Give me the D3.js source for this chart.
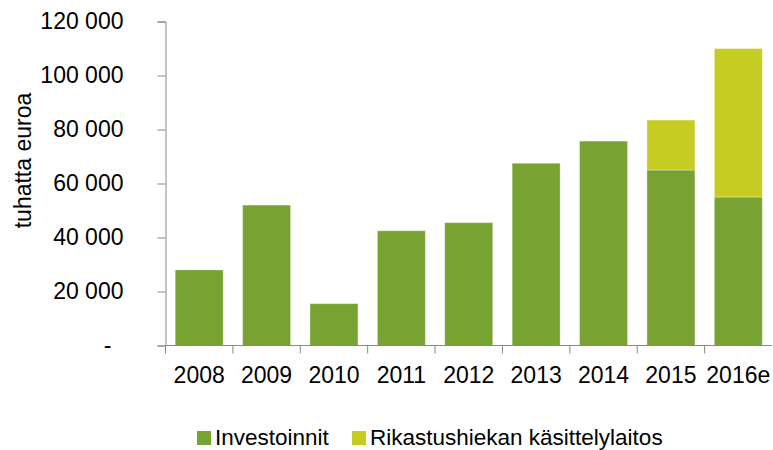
<!DOCTYPE html>
<html>
<head>
<meta charset="utf-8">
<script src="https://cdn.jsdelivr.net/npm/d3@7"></script>
<style>
body { margin: 0; background: #fff; }
text { font-family: "Liberation Sans", Arial, sans-serif; fill: #000; }
</style>
</head>
<body>
<div id="chart"></div>
<script>
// data
var years = ["2008", "2009", "2010", "2011", "2012", "2013", "2014", "2015", "2016e"];
var investoinnit = [28000, 52000, 15500, 42500, 45500, 67500, 75700, 65000, 55000];
var rikastus = [0, 0, 0, 0, 0, 0, 0, 18500, 55000];
var seriesNames = ["Investoinnit", "Rikastushiekan käsittelylaitos"];
var yTicks = [0, 20000, 40000, 60000, 80000, 100000, 120000];

var width = 773, height = 450;
var margin = {top: 21.5, right: 1, bottom: 104.5, left: 165.5};

var svg = d3.select("#chart").append("svg")
    .attr("width", width)
    .attr("height", height);

var x = d3.scaleBand()
    .domain(years)
    .range([margin.left, width - margin.right])
    .paddingInner(0.288)
    .paddingOuter(0.144);

var y = d3.scaleLinear()
    .domain([0, 120000])
    .range([height - margin.bottom, margin.top]);

var colors = ["#78a232", "#c5cd22"];

var rows = years.map(function(yr, i) {
    return {year: yr, inv: investoinnit[i], rik: rikastus[i]};
});
var stacked = d3.stack().keys(["inv", "rik"])(rows);

svg.append("g").selectAll("g")
    .data(stacked)
    .enter().append("g")
    .attr("fill", function(d, i) { return colors[i]; })
    .selectAll("rect")
    .data(function(d) { return d; })
    .enter().append("rect")
    .attr("x", function(d) { return x(d.data.year); })
    .attr("y", function(d) { return y(d[1]); })
    .attr("width", x.bandwidth())
    .attr("height", function(d) { return y(d[0]) - y(d[1]); })
    .attr("stroke", "rgba(255,255,255,0.35)")
    .attr("stroke-width", 1);

var fmt = function(v) {
    if (v === 0) return "-";
    return d3.format(",")(v).replace(/,/g, " ");
};

// y axis
var yAxis = svg.append("g")
    .attr("transform", "translate(" + margin.left + ",0)")
    .call(d3.axisLeft(y).tickValues(yTicks).tickFormat(fmt).tickSize(8).tickPadding(34));
yAxis.select(".domain").attr("stroke", "#898989");
yAxis.selectAll(".tick line").attr("stroke", "#898989");
yAxis.selectAll(".tick text")
    .attr("font-size", 23)
    .attr("font-family", "Liberation Sans, Arial, sans-serif")
    .attr("dx", function(d) { return d === 0 ? -12 : 0; });

// x axis (ticks between categories)
var xAxis = svg.append("g")
    .attr("transform", "translate(0," + y(0) + ")");
xAxis.append("line")
    .attr("x1", margin.left).attr("x2", width - margin.right)
    .attr("stroke", "#898989");
var step = x.step();
xAxis.selectAll(".sep")
    .data(years)
    .enter().append("line")
    .attr("x1", function(d) { return x(d) - x.paddingOuter() * step; })
    .attr("x2", function(d) { return x(d) - x.paddingOuter() * step; })
    .attr("y1", 0).attr("y2", 8)
    .attr("stroke", "#898989");
xAxis.selectAll(".lbl")
    .data(years)
    .enter().append("text")
    .attr("x", function(d) { return x(d) + x.bandwidth() / 2; })
    .attr("y", 37)
    .attr("text-anchor", "middle")
    .attr("font-size", 23)
    .text(function(d) { return d; });

// y title
svg.append("text")
    .attr("transform", "translate(31,160.5) rotate(-90)")
    .attr("text-anchor", "middle")
    .attr("font-size", 23)
    .text("tuhatta euroa");

// legend
var legend = svg.append("g").attr("transform", "translate(197,431)");
var legX = [0, 155];
seriesNames.forEach(function(name, i) {
    legend.append("rect")
        .attr("x", legX[i]).attr("y", 0)
        .attr("width", 14).attr("height", 14)
        .attr("fill", colors[i]);
    legend.append("text")
        .attr("x", legX[i] + 18).attr("y", 14)
        .attr("font-size", 22.5)
        .text(name);
});
</script>
</body>
</html>
